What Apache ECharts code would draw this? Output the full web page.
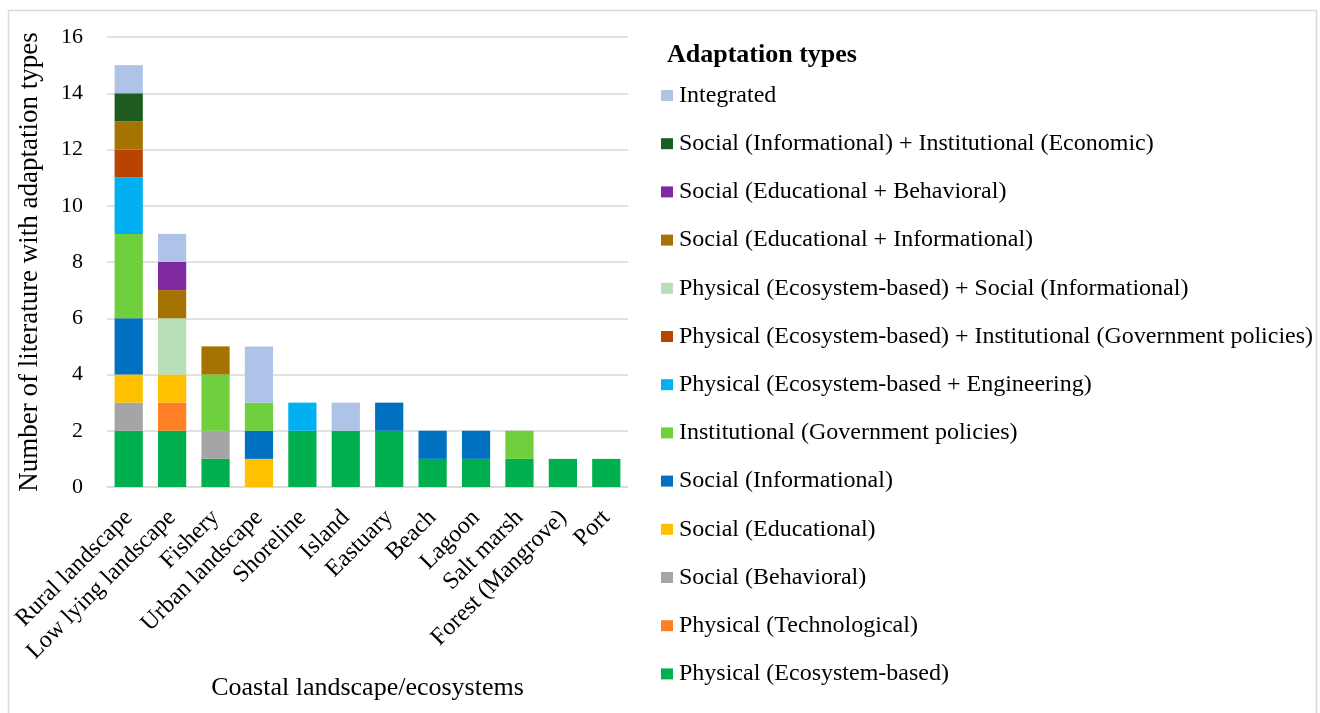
<!DOCTYPE html>
<html>
<head>
<meta charset="utf-8">
<script src="https://cdn.jsdelivr.net/npm/echarts@6/dist/echarts.min.js"></script>
<style>
html,body{margin:0;padding:0;background:#fff;}
#chart{width:1320px;height:713px;}
</style>
</head>
<body>
<div id="chart"></div>
<script>
const categories = ['Rural landscape','Low lying landscape','Fishery','Urban landscape','Shoreline','Island','Eastuary','Beach','Lagoon','Salt marsh','Forest (Mangrove)','Port'];

const seriesNames = [
  'Physical (Ecosystem-based)',
  'Physical (Technological)',
  'Social (Behavioral)',
  'Social (Educational)',
  'Social (Informational)',
  'Institutional (Government policies)',
  'Physical (Ecosystem-based + Engineering)',
  'Physical (Ecosystem-based) + Institutional (Government policies)',
  'Physical (Ecosystem-based) + Social (Informational)',
  'Social (Educational + Informational)',
  'Social (Educational + Behavioral)',
  'Social (Informational) + Institutional (Economic)',
  'Integrated'
];

const physEco      = [2,2,1,0,2,2,2,1,1,1,1,1];
const physTech     = [0,1,0,0,0,0,0,0,0,0,0,0];
const socBehav     = [1,0,1,0,0,0,0,0,0,0,0,0];
const socEdu       = [1,1,0,1,0,0,0,0,0,0,0,0];
const socInfo      = [2,0,0,1,0,0,1,1,1,0,0,0];
const instGov      = [3,0,2,1,0,0,0,0,0,1,0,0];
const physEcoEng   = [2,0,0,0,1,0,0,0,0,0,0,0];
const physEcoInst  = [1,0,0,0,0,0,0,0,0,0,0,0];
const physEcoSoc   = [0,2,0,0,0,0,0,0,0,0,0,0];
const socEduInfo   = [1,1,1,0,0,0,0,0,0,0,0,0];
const socEduBehav  = [0,1,0,0,0,0,0,0,0,0,0,0];
const socInfoEcon  = [1,0,0,0,0,0,0,0,0,0,0,0];
const integrated   = [1,1,0,2,0,1,0,0,0,0,0,0];

const seriesValues = [physEco, physTech, socBehav, socEdu, socInfo, instGov, physEcoEng, physEcoInst, physEcoSoc, socEduInfo, socEduBehav, socInfoEcon, integrated];

const colors = ['#00B04F','#FF7F27','#A5A5A5','#FFC000','#0070C0','#6FCF3D','#00B0F0','#B84400','#B9DFB8','#A57400','#7F2AA0','#1E5B1E','#AEC3E8'];

const yTicks = [0,2,4,6,8,10,12,14,16];

const FONT = '"Liberation Serif", "Times New Roman", serif';

const chart = echarts.init(document.getElementById('chart'));
const series = seriesNames.map((n, i) => ({
  name: n,
  type: 'bar',
  stack: 'total',
  barWidth: '65%',
  itemStyle: { color: colors[i] },
  data: seriesValues[i].map(v => v === 0 ? null : v)
}));

chart.setOption({
  animation: false,
  backgroundColor: '#fff',
  textStyle: { fontFamily: FONT },
  title: {
    text: 'Adaptation types',
    left: 662, top: 37,
    textStyle: { fontFamily: FONT, fontSize: 26, fontWeight: 'bold', color: '#000' }
  },
  legend: {
    orient: 'vertical',
    left: 656, top: 78.5,
    itemWidth: 12, itemHeight: 11,
    itemGap: 24.2,
    icon: 'rect',
    data: seriesNames.slice().reverse(),
    textStyle: { fontFamily: FONT, fontSize: 24, color: '#000', padding: [0,0,0,1] },
    selectedMode: false
  },
  grid: { left: 107, right: 692, top: 37, bottom: 226 },
  xAxis: {
    type: 'category',
    data: categories,
    axisLine: { lineStyle: { color: '#D9D9D9', width: 1.5 } },
    axisTick: { show: false },
    axisLabel: { rotate: 45, interval: 0, fontFamily: FONT, fontSize: 24, color: '#000', margin: 27 },
    name: 'Coastal landscape/ecosystems',
    nameLocation: 'middle',
    nameGap: 188,
    nameTextStyle: { fontFamily: FONT, fontSize: 26, color: '#000' }
  },
  yAxis: {
    type: 'value',
    min: 0, max: 16, interval: 2,
    axisLine: { show: false },
    axisTick: { show: false },
    splitLine: { lineStyle: { color: '#D9D9D9', width: 1.5 } },
    axisLabel: { fontFamily: FONT, fontSize: 22, color: '#000', margin: 24,
      formatter: v => yTicks.includes(v) ? String(v) : '' },
    name: 'Number of literature with adaptation types',
    nameLocation: 'middle',
    nameGap: 64,
    nameTextStyle: { fontFamily: FONT, fontSize: 27, color: '#000' }
  },
  graphic: [{
    type: 'rect',
    shape: { x: 8.5, y: 10.5, width: 1308, height: 720 },
    style: { fill: null, stroke: '#D9D9D9', lineWidth: 1.5 },
    silent: true, z: -1
  }],
  series: series
});
</script>
</body>
</html>
